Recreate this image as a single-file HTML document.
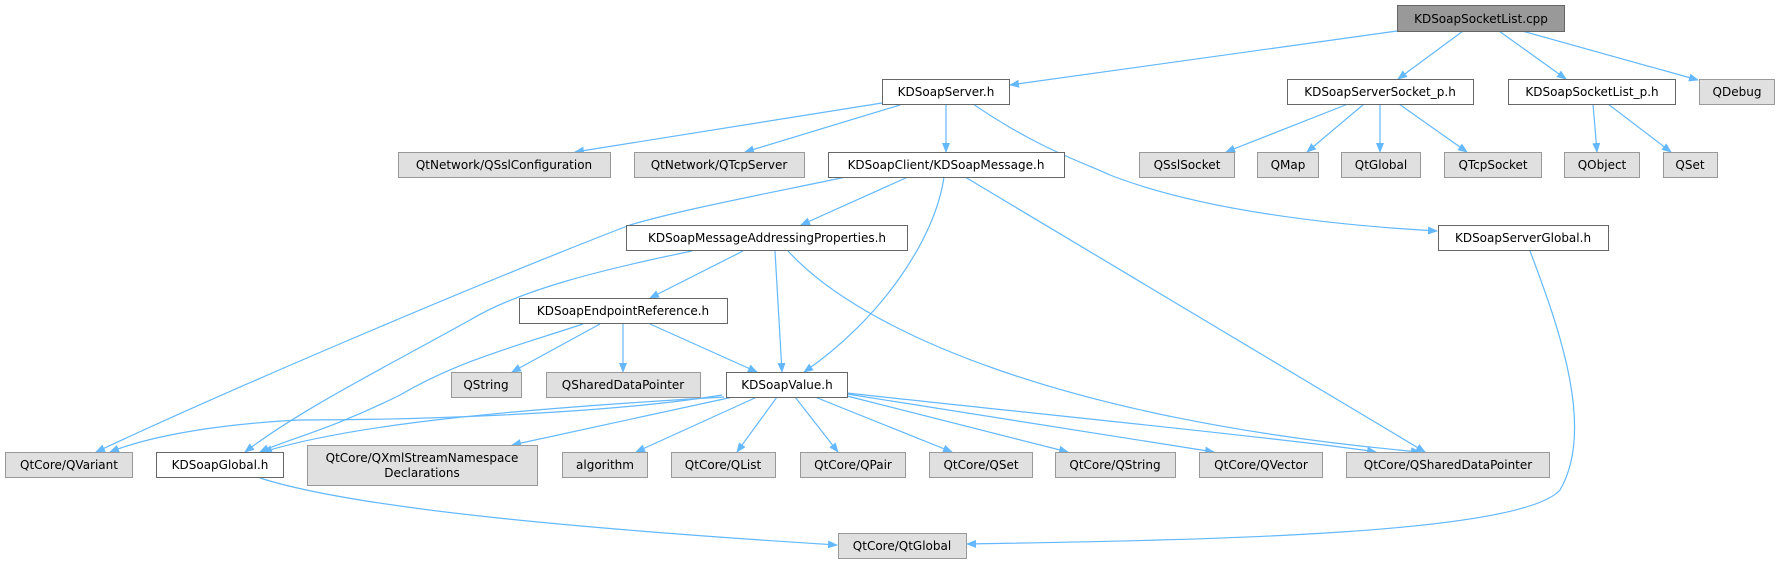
<!DOCTYPE html>
<html><head><meta charset="utf-8"><style>
html,body{margin:0;padding:0;background:#fff;}
svg text{font-family:"DejaVu Sans","Liberation Sans",sans-serif;font-size:12px;fill:#000;}
</style></head><body>
<svg width="1779" height="564" viewBox="0 0 1779 564" xmlns="http://www.w3.org/2000/svg">
<defs>
<marker id="a" viewBox="0 0 10 10" refX="9" refY="5" markerWidth="10" markerHeight="10" markerUnits="userSpaceOnUse" orient="auto">
<path d="M0,1 L10,5 L0,9 z" fill="#63b8ff"/>
</marker>
</defs>
<g fill="none" stroke="#63b8ff" stroke-width="1.2" marker-end="url(#a)">
<path d="M1397,31 L1010,85"/>
<path d="M1463,31 L1398,79"/>
<path d="M1499,31 L1566,79"/>
<path d="M1522,31 L1698,80"/>
<path d="M882,103 L575,152"/>
<path d="M900,105 L745,152"/>
<path d="M946,104 L946,152"/>
<path d="M973,104 C1040,150 1090,165 1110,175 C1200,210 1330,225 1437,231"/>
<path d="M1348,104 L1226,152"/>
<path d="M1364,104 L1307,152"/>
<path d="M1380,104 L1380,152"/>
<path d="M1399,104 L1467,152"/>
<path d="M1593,104 L1597,152"/>
<path d="M1608,104 L1671,152"/>
<path d="M1530,251 C1560,330 1595,430 1560,490 C1520,535 1200,540 967,544"/>
<path d="M908,177 L801,225"/>
<path d="M846,177 C760,195 680,210 630,225 C500,275 250,380 96,452"/>
<path d="M944,177 C935,240 880,320 804,372"/>
<path d="M965,177 L1425,452"/>
<path d="M743,251 L650,298"/>
<path d="M775,251 L782,372"/>
<path d="M788,251 C860,330 1060,420 1420,452"/>
<path d="M692,251 C600,270 520,290 470,320 C380,370 300,410 245,452"/>
<path d="M600,324 L512,372"/>
<path d="M623,324 L623,372"/>
<path d="M650,324 L757,372"/>
<path d="M583,324 C520,345 460,360 400,395 C330,430 285,440 260,452"/>
<path d="M722,395 C600,415 400,420 300,420 C200,425 140,440 110,452"/>
<path d="M724,397 C500,410 350,425 263,452"/>
<path d="M733,397 L512,445"/>
<path d="M757,397 L636,452"/>
<path d="M777,397 L737,452"/>
<path d="M795,397 L838,452"/>
<path d="M815,397 L952,452"/>
<path d="M847,396 L1068,452"/>
<path d="M847,394 L1214,452"/>
<path d="M847,393 C1000,410 1300,440 1376,452"/>
<path d="M260,478 C360,510 600,530 837,545"/>
</g>
<g stroke-width="1">
<rect x="1397.5" y="5.5" width="167" height="26" fill="#999" stroke="#666"/>
<rect x="882.5" y="79.5" width="127" height="25" fill="#fff" stroke="#666"/>
<rect x="1287.5" y="79.5" width="186" height="25" fill="#fff" stroke="#666"/>
<rect x="1508.5" y="79.5" width="167" height="25" fill="#fff" stroke="#666"/>
<rect x="1699.5" y="79.5" width="75" height="25" fill="#e0e0e0" stroke="#999"/>
<rect x="398.5" y="152.5" width="212" height="25" fill="#e0e0e0" stroke="#999"/>
<rect x="634.5" y="152.5" width="170" height="25" fill="#e0e0e0" stroke="#999"/>
<rect x="828.5" y="152.5" width="236" height="25" fill="#fff" stroke="#666"/>
<rect x="1139.5" y="152.5" width="95" height="25" fill="#e0e0e0" stroke="#999"/>
<rect x="1257.5" y="152.5" width="61" height="25" fill="#e0e0e0" stroke="#999"/>
<rect x="1341.5" y="152.5" width="79" height="25" fill="#e0e0e0" stroke="#999"/>
<rect x="1444.5" y="152.5" width="97" height="25" fill="#e0e0e0" stroke="#999"/>
<rect x="1564.5" y="152.5" width="75" height="25" fill="#e0e0e0" stroke="#999"/>
<rect x="1663.5" y="152.5" width="54" height="25" fill="#e0e0e0" stroke="#999"/>
<rect x="626.5" y="225.5" width="281" height="25" fill="#fff" stroke="#666"/>
<rect x="1438.5" y="225.5" width="170" height="25" fill="#fff" stroke="#666"/>
<rect x="519.5" y="298.5" width="208" height="25" fill="#fff" stroke="#666"/>
<rect x="451.5" y="372.5" width="70" height="25" fill="#e0e0e0" stroke="#999"/>
<rect x="546.5" y="372.5" width="154" height="25" fill="#e0e0e0" stroke="#999"/>
<rect x="726.5" y="372.5" width="121" height="25" fill="#fff" stroke="#666"/>
<rect x="5.5" y="452.5" width="127" height="25" fill="#e0e0e0" stroke="#999"/>
<rect x="156.5" y="452.5" width="127" height="25" fill="#fff" stroke="#666"/>
<rect x="307.5" y="445.5" width="230" height="40" fill="#e0e0e0" stroke="#999"/>
<rect x="562.5" y="452.5" width="85" height="25" fill="#e0e0e0" stroke="#999"/>
<rect x="671.5" y="452.5" width="104" height="25" fill="#e0e0e0" stroke="#999"/>
<rect x="800.5" y="452.5" width="105" height="25" fill="#e0e0e0" stroke="#999"/>
<rect x="929.5" y="452.5" width="103" height="25" fill="#e0e0e0" stroke="#999"/>
<rect x="1055.5" y="452.5" width="120" height="25" fill="#e0e0e0" stroke="#999"/>
<rect x="1199.5" y="452.5" width="123" height="25" fill="#e0e0e0" stroke="#999"/>
<rect x="1346.5" y="452.5" width="203" height="25" fill="#e0e0e0" stroke="#999"/>
<rect x="838.5" y="533.5" width="128" height="25" fill="#e0e0e0" stroke="#999"/>
</g>
<g text-anchor="middle">
<text x="1481" y="23">KDSoapSocketList.cpp</text>
<text x="946" y="96">KDSoapServer.h</text>
<text x="1380" y="96">KDSoapServerSocket_p.h</text>
<text x="1592" y="96">KDSoapSocketList_p.h</text>
<text x="1737" y="96">QDebug</text>
<text x="504" y="169">QtNetwork/QSslConfiguration</text>
<text x="719" y="169">QtNetwork/QTcpServer</text>
<text x="946" y="169">KDSoapClient/KDSoapMessage.h</text>
<text x="1187" y="169">QSslSocket</text>
<text x="1288" y="169">QMap</text>
<text x="1381" y="169">QtGlobal</text>
<text x="1493" y="169">QTcpSocket</text>
<text x="1602" y="169">QObject</text>
<text x="1690" y="169">QSet</text>
<text x="767" y="242">KDSoapMessageAddressingProperties.h</text>
<text x="1523" y="242">KDSoapServerGlobal.h</text>
<text x="623" y="315">KDSoapEndpointReference.h</text>
<text x="486" y="389">QString</text>
<text x="623" y="389">QSharedDataPointer</text>
<text x="787" y="389">KDSoapValue.h</text>
<text x="69" y="469">QtCore/QVariant</text>
<text x="220" y="469">KDSoapGlobal.h</text>
<text x="422" y="462">QtCore/QXmlStreamNamespace</text>
<text x="422" y="477">Declarations</text>
<text x="605" y="469">algorithm</text>
<text x="723" y="469">QtCore/QList</text>
<text x="853" y="469">QtCore/QPair</text>
<text x="981" y="469">QtCore/QSet</text>
<text x="1115" y="469">QtCore/QString</text>
<text x="1261" y="469">QtCore/QVector</text>
<text x="1448" y="469">QtCore/QSharedDataPointer</text>
<text x="902" y="550">QtCore/QtGlobal</text>
</g>
</svg>
</body></html>
